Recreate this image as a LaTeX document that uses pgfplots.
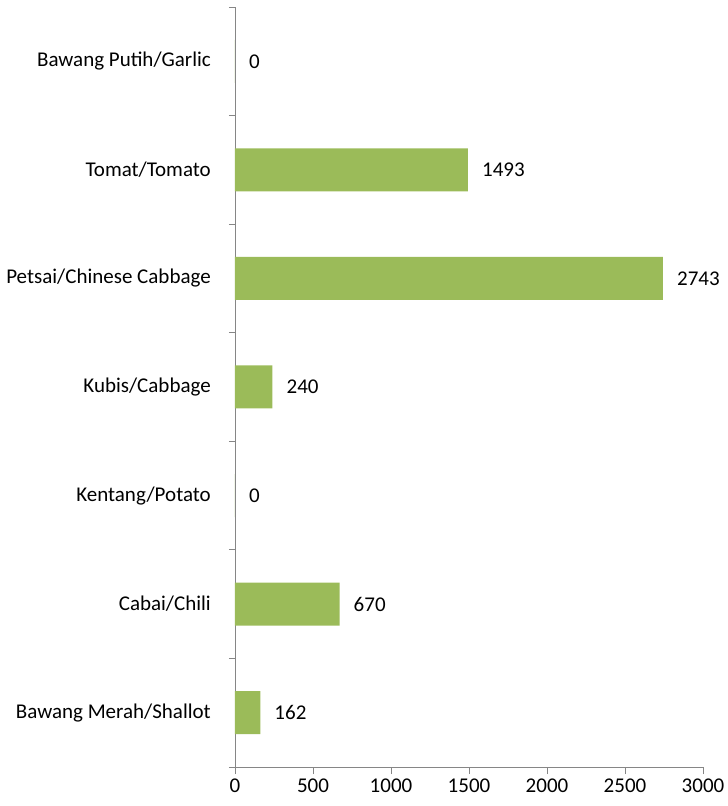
\documentclass[border=0pt]{standalone}
\usepackage{fontspec}
\setmainfont{Carlito}
\usepackage{pgfplots}
\pgfplotsset{compat=1.18}
\definecolor{barg}{HTML}{9BBB59}
\definecolor{axg}{HTML}{868686}
\begin{document}
\fontsize{21}{25}\selectfont
\begin{tikzpicture}
\begin{axis}[
  scale only axis, width=468pt, height=760pt,
  xbar, bar width=43pt,
  xmin=0, xmax=3000, ymin=-0.5, ymax=6.5,
  axis lines*=left,
  axis line style={axg, line width=0.8pt},
  /pgf/number format/assume math mode=true,
  /pgf/number format/1000 sep={},
  font=\fontsize{21}{25}\selectfont,
  xtick={0,500,...,3000},
  tick align=outside, major tick length=7pt,
  xtick style={axg, line width=0.8pt},
  xticklabel style={yshift=-4pt, inner sep=1pt},
  ytick={0,...,6},
  yticklabels={Bawang Merah/Shallot, Cabai/Chili, Kentang/Potato, Kubis/Cabbage, Petsai/Chinese Cabbage, Tomat/Tomato, Bawang Putih/Garlic},
  every major y tick/.append style={draw=none},
  minor ytick={-0.5,0.5,...,6.5},
  minor tick length=6pt,
  every minor y tick/.append style={axg, line width=0.8pt},
  yticklabel style={xshift=-10pt},
  nodes near coords,
  nodes near coords align={horizontal},
  every node near coord/.append style={anchor=west, black, xshift=7pt},
]
\addplot[fill=barg, draw=none] coordinates {
  (162,0) (670,1) (0,2) (240,3) (2743,4) (1493,5) (0,6)
};
\coordinate (O) at (rel axis cs:0,0);
\end{axis}
\pgfresetboundingbox
\path (O) ++(-235pt,-39pt) rectangle ([shift={(493pt,767pt)}]O);
\end{tikzpicture}
\end{document}
